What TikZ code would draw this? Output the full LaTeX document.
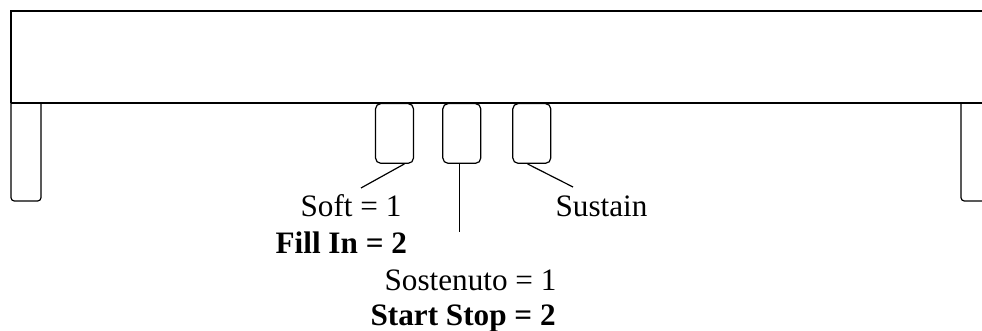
\documentclass[tikz,border=0pt]{standalone}
\usepackage{fontspec}
\setmainfont{Liberation Serif}
\begin{document}
\begin{tikzpicture}[x=0.75pt,y=-0.75pt,
  line width=0.9pt,
  pedal/.style={draw,rectangle,rounded corners=4pt,minimum width=28.5pt,minimum height=44.8pt,inner sep=0pt,anchor=north},
  lbl/.style={inner sep=0pt,anchor=base west,font=\fontsize{23.4pt}{27pt}\selectfont},
  blbl/.style={lbl,font=\fontsize{23.4pt}{27pt}\selectfont\bfseries}]
\useasboundingbox (0,0) rectangle (982,331);
% body
\draw (11,103) -- (11,11) -- (982,11);
\draw (11,103) -- (982,103);
% legs
\draw[rounded corners=2.5pt] (11,103) -- (11,201) -- (41,201) -- (41,103);
\draw[rounded corners=2.5pt] (961,103) -- (961,201) -- (982,201);
% pedals
\node[pedal] (p1) at (394.5,103) {};
\node[pedal] (p2) at (461.8,103) {};
\node[pedal] (p3) at (531.8,103) {};
% labels
\node[lbl] (soft) at (300,217) {Soft = 1};
\node[blbl] (fill) at (275,254) {Fill In = 2};
\node[lbl] (sustain) at (555,217) {Sustain};
\node[lbl] (sosten) at (384,291) {Sostenuto = 1};
\node[blbl] (startstop) at (370,326) {Start Stop = 2};
% connectors
\coordinate (c1) at (361,188);
\coordinate (c2) at (459.5,232);
\coordinate (c3) at (573,187);
\draw (p1.-72) -- (c1);
\draw (p2.south -| c2) -- (c2);
\draw (p3.-98) -- (c3);
\end{tikzpicture}
\end{document}
